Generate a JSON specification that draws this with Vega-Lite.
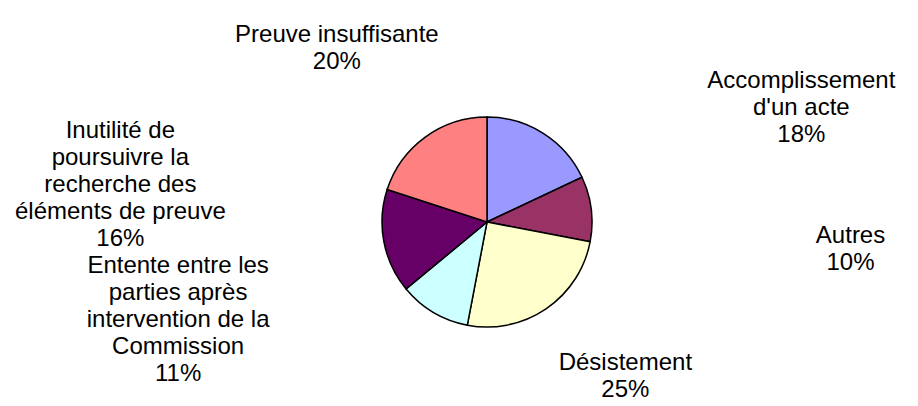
{
  "$schema": "https://vega.github.io/schema/vega-lite/v6.json",
  "width": 862,
  "height": 368,
  "autosize": {"type": "none"},
  "padding": {"left": 56, "right": 0, "top": 38, "bottom": 0},
  "background": "white",
  "config": {"view": {"stroke": null}},
  "data": {
    "values": [
      {"motif": "Accomplissement d'un acte", "etiquette": "Accomplissement\nd'un acte\n18%", "valeur": 18, "rang": 1},
      {"motif": "Autres", "etiquette": "Autres\n10%", "valeur": 10, "rang": 2},
      {"motif": "Désistement", "etiquette": "Désistement\n25%", "valeur": 25, "rang": 3},
      {"motif": "Entente entre les parties après intervention de la Commission", "etiquette": "Entente entre les\nparties après\nintervention de la\nCommission\n11%", "valeur": 11, "rang": 4},
      {"motif": "Inutilité de poursuivre la recherche des éléments de preuve", "etiquette": "Inutilité de\npoursuivre la\nrecherche des\néléments de preuve\n16%", "valeur": 16, "rang": 5},
      {"motif": "Preuve insuffisante", "etiquette": "Preuve insuffisante\n20%", "valeur": 20, "rang": 6}
    ]
  },
  "encoding": {
    "theta": {"field": "valeur", "type": "quantitative", "stack": true},
    "order": {"field": "rang", "type": "quantitative"}
  },
  "layer": [
    {
      "mark": {"type": "arc", "outerRadius": 105, "stroke": "black", "strokeWidth": 1.5},
      "encoding": {
        "color": {
          "field": "motif",
          "type": "nominal",
          "scale": {
            "domain": ["Accomplissement d'un acte", "Autres", "Désistement", "Entente entre les parties après intervention de la Commission", "Inutilité de poursuivre la recherche des éléments de preuve", "Preuve insuffisante"],
            "range": ["#9999FF", "#993366", "#FFFFCC", "#CCFFFF", "#660066", "#FF8080"]
          },
          "legend": null
        }
      }
    },
    {
      "mark": {
        "type": "text",
        "radius": 0,
        "font": "Liberation Sans",
        "fontSize": 24,
        "lineBreak": "\n",
        "lineHeight": 27,
        "color": "black",
        "align": "center",
        "baseline": "middle",
        "dx": {"expr": "370 * (sin(PI * (datum.valeur_start + datum.valeur_end) / 100 + PI / 9) < 0 ? -1 : 1) * pow(abs(sin(PI * (datum.valeur_start + datum.valeur_end) / 100 + PI / 9)), 0.7)"},
        "dy": {"expr": "-170 * cos(PI * (datum.valeur_start + datum.valeur_end) / 100 + PI / 9) - 10 - 13.5 * (length(split(datum.etiquette, '\\n')) - 1)"}
      },
      "encoding": {
        "text": {"field": "etiquette", "type": "nominal"}
      }
    }
  ]
}
